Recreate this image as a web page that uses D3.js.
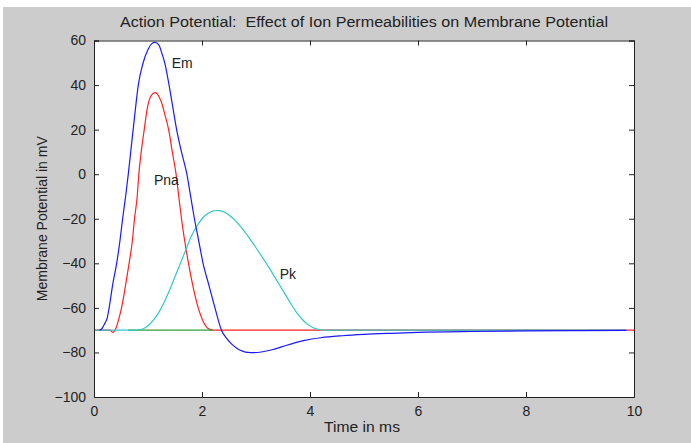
<!DOCTYPE html>
<html><head><meta charset="utf-8">
<script src="https://cdn.jsdelivr.net/npm/d3@7"></script>
<style>body{margin:0;background:#fff;} text{font-family:"Liberation Sans",Arial,sans-serif;fill:#222;}</style>
</head><body>
<svg id="c" width="691" height="443"></svg>
<script>
// Data
const xTicks = [0, 2, 4, 6, 8, 10];
const yTicks = [60, 40, 20, 0, -20, -40, -60, -80, -100];

const emT = [0.10,0.14,0.19,0.25,0.28,0.35,0.42,0.48,0.53,0.585,0.635,0.68,0.725,0.77,0.82,0.91,1.00,1.07,1.13,1.20,1.26,1.31,1.39,1.46,1.53,1.62,1.72,1.79,1.86,1.94,2.02,2.13,2.24,2.36,2.45,2.55,2.65,2.75,2.85,2.95,3.1,3.3,3.5,3.7,3.9,4.2,4.6,5.0,5.5,6.0,7.0,8.0,9.0,9.86];
const emV = [-70,-69.5,-67.5,-64,-60,-49,-40,-30,-20,-10,0,10,20,30,40,50,56,58.6,59.2,58,54,50,40,30,20,10,0,-10,-20,-30,-40,-50,-60,-70,-73.5,-76.3,-78.2,-79.4,-80,-80.1,-79.8,-78.8,-77.3,-75.8,-74.6,-73.4,-72.5,-71.9,-71.4,-71,-70.6,-70.35,-70.2,-70.1];

const pnaT = [0,0.30,0.35,0.40,0.47,0.51,0.59,0.65,0.71,0.75,0.80,0.83,0.88,0.93,0.99,1.06,1.13,1.20,1.26,1.31,1.39,1.45,1.52,1.57,1.62,1.68,1.75,1.83,1.93,2.02,2.10,2.20,10];
const pnaV = [-70,-70,-71,-69.5,-64,-60,-49,-40,-30,-20,-10,0,11,20,30,35.3,36.6,35,31.5,27,19,10,0,-10,-20,-30,-40,-50,-60,-66,-69,-70,-70];

const pkT = [0,0.79,0.90,1.00,1.10,1.20,1.30,1.40,1.50,1.60,1.70,1.80,1.90,2.00,2.10,2.20,2.27,2.35,2.45,2.55,2.65,2.75,2.85,2.95,3.05,3.15,3.25,3.35,3.45,3.55,3.65,3.75,3.85,3.95,4.05,4.15,4.25,9.86];
const pkV = [-70,-70,-69.5,-68,-65.5,-62,-57.5,-52,-46,-40,-34,-28,-23.5,-20,-17.8,-16.6,-16.3,-16.5,-17.5,-19.3,-21.7,-24.5,-27.8,-31.2,-34.8,-38.5,-42.3,-46.3,-50.3,-54.3,-58.3,-62,-65,-67.3,-68.8,-69.6,-70,-70];

const plT = [0.63, 2.2];
const plV = [-70, -70];

const labels = [
  {text:"Em", t:1.44, v:47.5},
  {text:"Pna", t:1.11, v:-5},
  {text:"Pk", t:3.44, v:-47}
];

const svg = d3.select("#c");
svg.append("rect").attr("x",3).attr("y",7).attr("width",688).attr("height",436).attr("fill","#cccccc");

const L=94, R=634, T=40.5, B=397;
const x = d3.scaleLinear().domain([0,10]).range([L,R]);
const y = d3.scaleLinear().domain([-100,60]).range([B,T]);

svg.append("rect").attr("x",L).attr("y",T).attr("width",R-L).attr("height",B-T).attr("fill","#fff");

const line = d3.line().x(d=>x(d[0])).y(d=>y(d[1])).curve(d3.curveMonotoneX);
const series = [
  {t:pnaT, v:pnaV, c:"#ff2020"},
  {t:plT, v:plV, c:"#3a9a3a"},
  {t:pkT, v:pkV, c:"#30c8c8"},
  {t:emT, v:emV, c:"#1a1aff"}
];
series.forEach(s=>{
  svg.append("path").datum(s.t.map((t,i)=>[t,s.v[i]]))
    .attr("d",line).attr("fill","none").attr("stroke",s.c).attr("stroke-width",1.2);
});

// axes
const fs = 14;
const ax = svg.append("g").attr("transform",`translate(0,${B})`)
  .call(d3.axisBottom(x).tickValues(xTicks).tickSize(-5).tickPadding(9));
const axT = svg.append("g").attr("transform",`translate(0,${T})`)
  .call(d3.axisTop(x).tickValues(xTicks).tickSize(-5).tickFormat(""));
const ay = svg.append("g").attr("transform",`translate(${L},0)`)
  .call(d3.axisLeft(y).tickValues(yTicks).tickSize(-5).tickPadding(8));
const ayR = svg.append("g").attr("transform",`translate(${R},0)`)
  .call(d3.axisRight(y).tickValues(yTicks).tickSize(-5).tickFormat(""));
[ax,axT,ay,ayR].forEach(g=>{
  g.selectAll("path").attr("stroke","#222");
  g.selectAll("line").attr("stroke","#222");
  g.selectAll("text").attr("font-size",fs).attr("font-family","Liberation Sans, Arial, sans-serif").attr("fill","#222");
});

svg.append("text").attr("x",364).attr("y",27).attr("text-anchor","middle").attr("font-size",14)
  .attr("textLength",488).attr("lengthAdjust","spacingAndGlyphs")
  .text("Action Potential:  Effect of Ion Permeabilities on Membrane Potential").style("white-space","pre");
svg.append("text").attr("x",362).attr("y",432).attr("text-anchor","middle").attr("font-size",14)
  .attr("textLength",76).attr("lengthAdjust","spacingAndGlyphs").text("Time in ms");
svg.append("text").attr("transform",`translate(47,${(T+B)/2}) rotate(-90)`).attr("text-anchor","middle").attr("font-size",14).text("Membrane Potential in mV");

labels.forEach(l=>{
  svg.append("text").attr("x",x(l.t)).attr("y",y(l.v)).attr("font-size",14).text(l.text);
});
</script>
</body></html>
